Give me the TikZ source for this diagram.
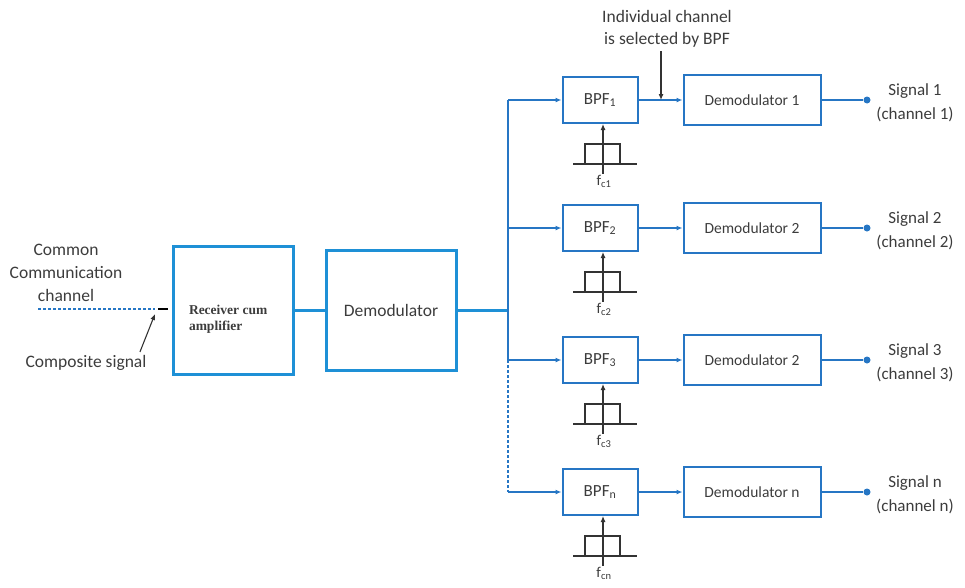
\documentclass[tikz,border=0pt]{standalone}
\usepackage{fontspec}
\newfontfamily\calib{Carlito}
\newfontfamily\heavyserif{Liberation Serif}
\usetikzlibrary{arrows.meta}

\definecolor{boxblue}{RGB}{30,144,214}
\definecolor{wireblue}{RGB}{38,118,196}
\definecolor{inkgray}{RGB}{60,60,60}

\tikzset{
  bigbox/.style={draw=boxblue, line width=3pt, minimum width=120pt, minimum height=128pt, inner sep=2pt},
  bpfbox/.style={draw=wireblue, line width=2pt, minimum width=75pt, minimum height=46pt},
  dembox/.style={draw=wireblue, line width=2pt, minimum width=137pt, minimum height=50pt,
    font=\calib\fontsize{15.5}{18}\selectfont},
  wire/.style={draw=wireblue, line width=1.6pt},
  thickwire/.style={draw=boxblue, line width=3pt},
  tip/.style={-{Latex[length=6pt,width=5pt]}},
  dot/.style={circle, fill=wireblue, inner sep=0pt, minimum size=7pt},
  ink/.style={draw=black!80, line width=1.1pt},
  bigtext/.style={font=\calib\fontsize{17.5}{23}\selectfont}
}

\begin{document}
\begin{tikzpicture}[x=1pt, y=-1pt, font=\calib\fontsize{17}{24}\selectfont, text=inkgray]
\useasboundingbox (0,0) rectangle (965,587);

% front end
\node[bigbox, align=left, font=\heavyserif\bfseries\fontsize{13.5}{16}\selectfont] (rx) at (233,310) {\parbox{88pt}{\vspace{18pt}Receiver cum\\amplifier}};
\node[bigbox, minimum width=130pt, minimum height=120pt, bigtext] (dm) at (391,310) {Demodulator};
\draw[thickwire] (rx) -- (dm);
\coordinate (bus) at (508,310);
\draw[thickwire] (dm.east) -- (bus);

% one row per channel
\foreach \y/\b/\d/\s in {100/1/1/1, 228/2/2/2, 360/3/2/3, 492/n/n/n} {
  \node[bpfbox] (bpf\s) at (600,\y) {BPF\textsubscript{\b}};
  \node[dembox] (dem\s) at (752,\y) {Demodulator \d};
  \coordinate (br\s) at (bus |- bpf\s);
  \draw[wire, tip] (br\s) -- (bpf\s);
  \draw[wire, tip] (bpf\s) -- (dem\s);
  \node[dot] (out\s) at (867,\y) {};
  \draw[wire] (dem\s) -- (out\s);
  \node[align=center] (sig\s) at (915,{\y+3}) {Signal \s\\(channel \s)};
  % passband sketch under the filter
  \draw[ink] (573,{\y+64}) -- (637,{\y+64});
  \draw[ink] (585,{\y+64}) -- (585,{\y+44}) -- (620,{\y+44}) -- (620,{\y+64});
  \node[inner sep=1pt, font=\calib\fontsize{15}{18}\selectfont] (fc\s) at (604,{\y+81}) {f\textsubscript{c\b}};
  \draw[ink, tip] ([xshift=-1pt]fc\s.north) -- ([xshift=-1pt]fc\s.north |- bpf\s.south);
}
\draw[wire] (br1) -- (br3);
\draw[wire, densely dashed] (br3) -- (brn);

% which channel goes through
\node[align=center, font=\calib\fontsize{17.5}{22}\selectfont] (sel) at (667,29) {Individual channel\\is selected by BPF};
\coordinate (tap) at (661,100);
\draw[ink, tip] (sel.south -| tap) -- (tap);

% incoming side
\node[align=center, bigtext] (cc) at (66,273) {Common\\Communication\\channel};
\coordinate (cin) at (38,309);
\coordinate (cend) at (155,309);
\draw[wire, line width=1.2pt, densely dashed] (cin) -- (cend);
\draw[black, line width=2.5pt] (158,309) -- (168,309);
\node[bigtext] (cs) at (86,363) {Composite signal};
\draw[ink, tip] ([xshift=-10pt]cs.north east) -- ([yshift=-5pt]cend);
\end{tikzpicture}
\end{document}
